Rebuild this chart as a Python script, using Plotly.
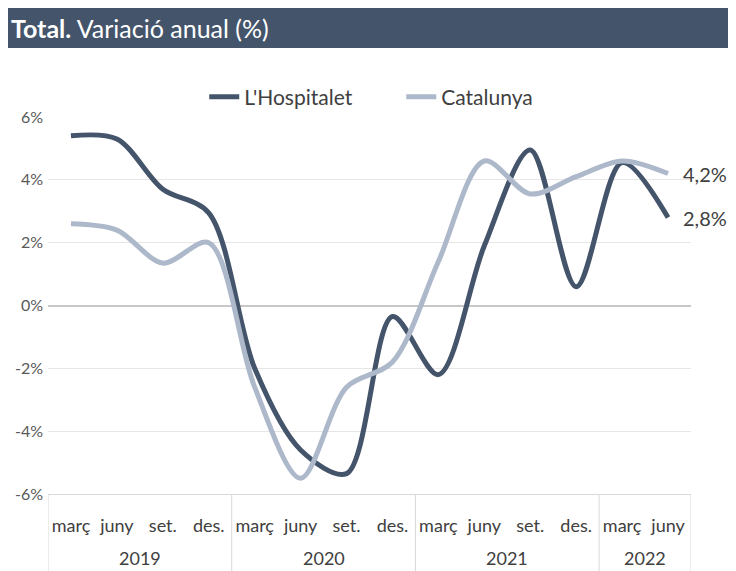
import plotly.graph_objects as go

years = ["2019"] * 4 + ["2020"] * 4 + ["2021"] * 4 + ["2022"] * 2
quarters = ["març", "juny", "set.", "des."] * 3 + ["març", "juny"]
hospitalet = [5.4, 5.3, 3.7, 2.95, -2.0, -4.6, -5.35, -0.35, -2.2, 1.9, 4.95, 0.6, 4.55, 2.8]
catalunya = [2.6, 2.4, 1.35, 2.0, -2.6, -5.5, -2.6, -1.8, 1.4, 4.6, 3.55, 4.1, 4.6, 4.2]
last_labels = ["2,8%", "4,2%"]
y_ticks = [-6, -4, -2, 0, 2, 4, 6]
y_ticklabels = ["-6%", "-4%", "-2%", "0%", "2%", "4%", "6%"]

DARK = "#44546a"
LIGHT = "#adb9ca"
FONT = "Lato"

n = len(quarters)
xpos = list(range(n))

fig = go.Figure()
fig.add_trace(go.Scatter(x=xpos, y=hospitalet, name="L'Hospitalet", mode="lines",
                         line=dict(color=DARK, width=5, shape="spline", smoothing=0.9)))
fig.add_trace(go.Scatter(x=xpos, y=catalunya, name="Catalunya", mode="lines",
                         line=dict(color=LIGHT, width=5, shape="spline", smoothing=0.9)))

# end-of-series value labels
for val, lab in zip([hospitalet[-1], catalunya[-1]], last_labels):
    fig.add_annotation(xref="x", yref="y", x=n - 1, y=val, text=lab, showarrow=False,
                       xanchor="left", yanchor="middle", xshift=13,
                       font=dict(family=FONT, size=20, color="#404040"))

# year groups: labels and dividers
groups = []
for i, yr in enumerate(years):
    if not groups or groups[-1][0] != yr:
        groups.append([yr, i, i])
    else:
        groups[-1][2] = i
bounds = [groups[0][1] - 0.5] + [g[2] + 0.5 for g in groups]
for b in bounds:
    fig.add_shape(type="line", xref="x", yref="paper", x0=b, x1=b, y0=0, y1=-0.3,
                  line=dict(color="#d9d9d9", width=1))
for yr, i0, i1 in groups:
    fig.add_annotation(xref="x", yref="paper", x=(i0 + i1) / 2, y=-0.17, text=yr,
                       showarrow=False, xanchor="center", yanchor="middle",
                       font=dict(family=FONT, size=18, color="#404040"))

# title bar
fig.add_shape(type="rect", xref="paper", yref="paper", x0=-0.067, x1=1.09, y0=1.183, y1=1.289,
              fillcolor=DARK, line=dict(width=0), layer="below")
fig.add_annotation(xref="paper", yref="paper", x=-0.0607, y=1.236, xanchor="left", yanchor="middle",
                   text="<b>Total.</b> Variació anual (%)", showarrow=False,
                   font=dict(family=FONT, size=25, color="white"))

fig.update_layout(
    width=736, height=571, autosize=False,
    margin=dict(l=40, r=53, t=109, b=85),
    paper_bgcolor="white", plot_bgcolor="white",
    font=dict(family=FONT, size=14, color="#595959"),
    legend=dict(orientation="h", x=0.243, xanchor="left", y=1.053, yanchor="middle",
                entrywidth=152, entrywidthmode="pixels",
                font=dict(family=FONT, size=21, color="#404040")),
    showlegend=True,
)
fig.update_yaxes(range=[-6, 6], tickmode="array", tickvals=y_ticks, ticktext=y_ticklabels,
                 showgrid=True, gridcolor="#e6e6e6", gridwidth=1,
                 zeroline=True, zerolinecolor="#c8c8c8", zerolinewidth=1.5,
                 tickfont=dict(family=FONT, size=16, color="#595959"), showline=False,
                 automargin=False, ticklabelstandoff=4)
fig.update_xaxes(range=[-0.5, n - 0.5], tickmode="array", tickvals=xpos, ticktext=quarters,
                 showline=True, linecolor="#d9d9d9", showgrid=False, zeroline=False, ticks="",
                 tickfont=dict(family=FONT, size=18, color="#404040"),
                 automargin=False, ticklabelstandoff=15)

fig.write_html("out.html")
